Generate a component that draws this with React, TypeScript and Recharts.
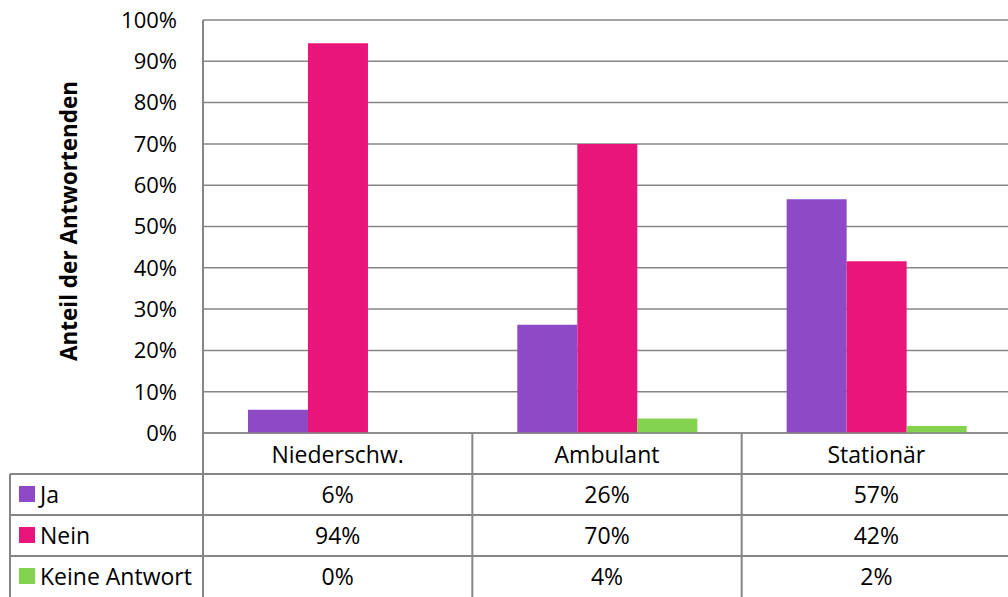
import React from 'react';
import { BarChart, Bar, XAxis, YAxis, CartesianGrid } from 'recharts';

const categories = ['Niederschw.', 'Ambulant', 'Stationär'];
const seriesNames = ['Ja', 'Nein', 'Keine Antwort'];
const ja = [5.6, 26.2, 56.6];
const nein = [94.4, 70.0, 41.6];
const keine = [0, 3.5, 1.7];
const yTicks = [0, 10, 20, 30, 40, 50, 60, 70, 80, 90, 100];
const yTitle = 'Anteil der Antwortenden';

const seriesValues = [ja, nein, keine];
const seriesKeys = ['ja', 'nein', 'keine'];
const colors = ['#8E49C6', '#EA157A', '#84D34E'];

const data = categories.map((c, i) => ({ name: c, ja: ja[i], nein: nein[i], keine: keine[i] }));

const W = 1008;
const H = 597;
const CHART_W = 1011;
const PLOT_L = 203;
const PLOT_T = 20;
const PLOT_B = 433;
const FONT = '"Open Sans", "Noto Sans", sans-serif';
const FS = 22;
const FS_TABLE = 23;
const GRID = '#868686';
const CAT_Y = 454;
const ROW_Y = [494, 535, 576];
const ROW_LINES = [474, 515, 556];

function TableTick(props: any) {
  const { x, payload } = props;
  const i = payload.index ?? props.index;
  const band = (CHART_W - PLOT_L) / categories.length;
  return (
    <g>
      <text x={x} y={CAT_Y} textAnchor="middle" dominantBaseline="central" fontFamily={FONT} fontSize={FS_TABLE} fill="#000">
        {payload.value}
      </text>
      {seriesValues.map((vals, r) => (
        <text key={r} x={x} y={ROW_Y[r]} textAnchor="middle" dominantBaseline="central" fontFamily={FONT} fontSize={FS_TABLE} fill="#000">
          {Math.round(vals[i])}%
        </text>
      ))}
      <line x1={x + band / 2} x2={x + band / 2} y1={PLOT_B} y2={H} stroke={GRID} strokeWidth={2} />
    </g>
  );
}

export default function App() {
  return (
    <div style={{ position: 'absolute', left: 0, top: 0, width: W, height: H, background: '#fff', overflow: 'hidden' }}>
      <BarChart
        width={CHART_W}
        height={H}
        data={data}
        margin={{ top: PLOT_T, right: 0, left: 0, bottom: 0 }}
        barCategoryGap="16.7%"
        barGap={0}
      >
        <CartesianGrid vertical={false} stroke={GRID} strokeWidth={1.5} />
        <XAxis
          dataKey="name"
          height={H - PLOT_B}
          axisLine={{ stroke: GRID, strokeWidth: 1.5 }}
          tickLine={false}
          tickSize={0}
          tick={<TableTick />}
          interval={0}
        />
        <YAxis
          width={PLOT_L}
          domain={[0, 100]}
          ticks={yTicks}
          tickFormatter={(v: number) => `${v}%`}
          axisLine={{ stroke: GRID, strokeWidth: 2 }}
          tickLine={false}
          tickSize={0}
          tickMargin={26}
          tick={{ fontFamily: FONT, fontSize: FS, fill: '#000' }}
        />
        {seriesKeys.map((k, i) => (
          <Bar key={k} dataKey={k} name={seriesNames[i]} fill={colors[i]} isAnimationActive={false} />
        ))}
      </BarChart>
      <svg width={W} height={H} style={{ position: 'absolute', left: 0, top: 0, pointerEvents: 'none' }}>
        <text
          x={0}
          y={0}
          transform={`translate(68, 221) rotate(-90)`}
          textAnchor="middle"
          dominantBaseline="central"
          fontFamily={FONT}
          fontWeight="bold"
          fontSize={22.5}
          fill="#000"
        >
          {yTitle}
        </text>
        <line x1={PLOT_L} x2={PLOT_L} y1={PLOT_B} y2={H} stroke={GRID} strokeWidth={2} />
        <line x1={10} x2={10} y1={ROW_LINES[0]} y2={H} stroke={GRID} strokeWidth={2} />
        {ROW_LINES.map((y) => (
          <line key={y} x1={10} x2={W} y1={y} y2={y} stroke={GRID} strokeWidth={2} />
        ))}
        {seriesNames.map((n, r) => (
          <g key={n}>
            <rect x={19} y={ROW_Y[r] - 8} width={16} height={16} fill={colors[r]} />
            <text x={40} y={ROW_Y[r]} dominantBaseline="central" fontFamily={FONT} fontSize={FS_TABLE} fill="#000">
              {n}
            </text>
          </g>
        ))}
      </svg>
    </div>
  );
}
